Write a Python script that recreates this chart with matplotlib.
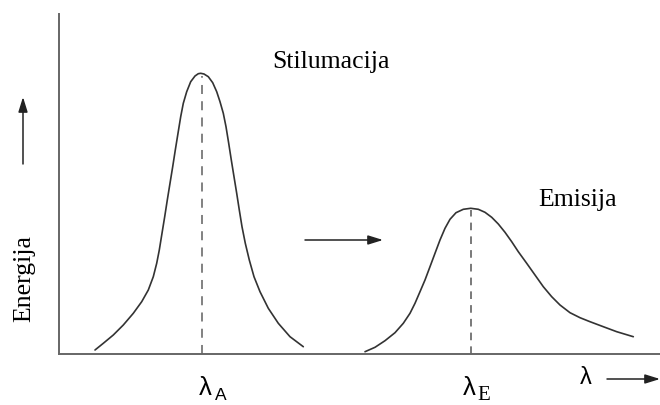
import matplotlib
matplotlib.use("Agg")
import matplotlib.pyplot as plt

# Absorption (stimulation) band
abs_x = [36.0, 44.3, 54.3, 64.3, 74.3, 82.7, 89.3, 94.3, 97.7, 100.3, 103.0, 105.7, 108.3,
         111.0, 113.7, 116.3, 119.0, 121.7, 124.3, 127.7, 131.7, 136.0, 139.3, 141.7, 145.0,
         149.3, 153.7, 157.7, 161.0, 164.3, 167.0, 169.7, 172.3, 175.0, 177.7, 180.3, 183.0,
         186.3, 190.3, 195.0, 201.0, 209.3, 219.3, 231.0, 244.3]
abs_y = [4.0, 10.7, 19.0, 29.0, 40.7, 52.3, 64.0, 77.3, 90.7, 104.0, 120.7, 137.3, 154.0,
         170.7, 187.3, 204.0, 220.7, 237.3, 250.7, 262.3, 272.3, 278.0, 280.3, 280.7, 280.0,
         277.3, 271.3, 262.3, 252.3, 240.7, 227.3, 210.7, 194.0, 177.3, 160.7, 144.0, 127.3,
         110.7, 94.0, 77.3, 62.3, 45.7, 30.7, 17.3, 7.3]
abs_peak = (143, 278)

# Emission band
em_x = [306.0, 316.0, 326.0, 336.0, 344.3, 351.0, 356.0, 361.0, 366.0, 371.0, 376.0, 381.0,
        386.0, 391.0, 397.0, 404.3, 411.7, 419.3, 426.0, 432.7, 439.3, 446.0, 452.7, 459.3,
        467.7, 476.0, 484.3, 492.7, 501.0, 511.0, 521.0, 531.0, 544.3, 557.7, 574.3]
em_y = [2.3, 6.7, 13.3, 21.3, 30.7, 40.7, 50.7, 62.3, 74.0, 87.3, 100.7, 114.0,
        125.7, 134.7, 141.3, 144.7, 145.7, 144.7, 141.7, 136.7, 130.0, 121.7, 112.3, 102.3,
        90.7, 79.0, 67.3, 57.3, 49.0, 41.3, 36.3, 32.3, 27.3, 22.3, 17.3]
em_peak = (412, 144)

labels = {"abs": "Stilumacija", "em": "Emisija", "y": "Energija"}

W, H = 660, 405
fig = plt.figure(figsize=(W / 100, H / 100), dpi=100)
ax = fig.add_axes([59 / W, (H - 354) / H, (W - 59) / W, (354 - 14) / H])
ax.set_xlim(0, W - 59)
ax.set_ylim(0, 340)
for s in ["top", "right"]:
    ax.spines[s].set_visible(False)
for s in ["left", "bottom"]:
    ax.spines[s].set_color("#666666")
    ax.spines[s].set_linewidth(1.4)
ax.set_xticks([])
ax.set_yticks([])

lc = "#333333"
ax.plot(abs_x, abs_y, color=lc, lw=1.2, solid_joinstyle="round", solid_capstyle="round")
ax.plot(em_x, em_y, color=lc, lw=1.2, solid_joinstyle="round", solid_capstyle="round")
ax.plot([abs_peak[0]] * 2, [0, abs_peak[1]], color="#777777", lw=1.3, ls=(0, (5, 4)))
ax.plot([em_peak[0]] * 2, [0, em_peak[1]], color="#555555", lw=1.1, ls=(0, (5, 4)))

serif = "Liberation Serif"
sans = "Liberation Sans"
fs = 18.5
fig.text(331 / W, 1 - 62 / H, labels["abs"], family=serif, fontsize=fs,
         ha="center", va="center")
fig.text(578 / W, 1 - 200 / H, labels["em"], family=serif, fontsize=fs,
         ha="center", va="center")
fig.text(24 / W, 1 - 278 / H, labels["y"], family=serif, fontsize=fs,
         ha="center", va="center", rotation=90)

# lambda labels
fig.text(205 / W, 1 - 388 / H, "λ", family=sans, fontsize=18.5,
         ha="center", va="center")
fig.text(221 / W, 1 - 396 / H, "A", family=sans, fontsize=12.5,
         ha="center", va="center")
fig.text(469 / W, 1 - 388 / H, "λ", family=sans, fontsize=18.5,
         ha="center", va="center")
fig.text(484 / W, 1 - 395 / H, "E", family=serif, fontsize=15,
         ha="center", va="center")
fig.text(586 / W, 1 - 378 / H, "λ", family=sans, fontsize=17,
         ha="center", va="center")

aprops = dict(arrowstyle="-|>,head_length=0.9,head_width=0.28", color="#222222", lw=1.1,
              shrinkA=0, shrinkB=0)
ax.annotate("", xy=(23, H - 97), xytext=(23, H - 164), xycoords="figure pixels",
            textcoords="figure pixels", arrowprops=aprops, annotation_clip=False)
ax.annotate("", xy=(383, H - 240), xytext=(305, H - 240), xycoords="figure pixels",
            textcoords="figure pixels", arrowprops=aprops, annotation_clip=False)
ax.annotate("", xy=(660, H - 379), xytext=(607, H - 379), xycoords="figure pixels",
            textcoords="figure pixels", arrowprops=aprops, annotation_clip=False)

fig.savefig("out.png", dpi=100, facecolor="white")
